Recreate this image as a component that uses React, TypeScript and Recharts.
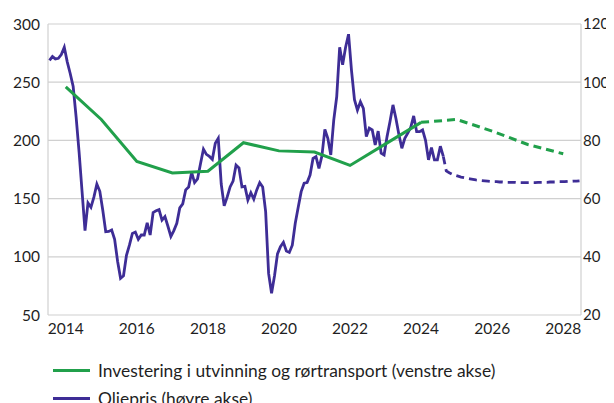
import { LineChart, Line, XAxis, YAxis, CartesianGrid } from 'recharts'

const GREEN = '#21A04B'
const PURPLE = '#3E2D96'
const GRID = '#d0d0d0'
const TEXT = '#1f1f1f'
const FONT = 'Lato, "Open Sans", sans-serif'

// year grid (one column per year) and the labelled years
const gridYears = [2014, 2015, 2016, 2017, 2018, 2019, 2020, 2021, 2022, 2023, 2024, 2025, 2026, 2027, 2028, 2029]
const labelYears = [2014, 2016, 2018, 2020, 2022, 2024, 2026, 2028]
const leftTicks = [50, 100, 150, 200, 250, 300]
const rightTicks = [20, 40, 60, 80, 100, 120]

// investment, annual (left axis)
const investYears = [2014, 2015, 2016, 2017, 2018, 2019, 2020, 2021, 2022, 2023, 2024, 2025, 2026, 2027, 2028]
const investActual = [246, 218, 182, 172, 173.5, 198, 191, 190, 178.5, 197, 215.5]
const investForecast = [215.5, 218, 208, 196.5, 188.5] // 2024 -> 2028

// oil price, monthly (right axis), Jan 2014 - Feb 2025
const oilActual = [
  107.5, 108.8, 108, 108.2, 109.5, 112, 107, 103, 98.5, 88, 76, 62.5,
  49, 58.5, 57, 60.5, 65, 62.5, 56, 48.6, 48.7, 49.2, 46, 38.5,
  32.6, 33.5, 40.5, 44, 48, 48.5, 46, 47.5, 47.5, 51.7, 47.5, 55.2,
  55.8, 56.2, 52.6, 53.8, 50.5, 47, 49, 51.5, 56.8, 58.2, 63, 64,
  69, 65.5, 66.8, 72, 77, 75.2, 74.5, 73.5, 79, 80.7, 65, 57.5,
  60.5, 64, 66, 71.5, 70.5, 64, 64.2, 59.5, 62, 59.8, 63, 65.5,
  64, 55.5, 34.3, 27.5, 33.5, 41, 43.5, 45, 42, 41.5, 44, 51.5,
  57, 62.4, 65.3, 65.5, 68.1, 73.8, 74.4, 70.4, 74.6, 83.8, 80.7, 75,
  87, 95, 112, 106, 112, 116.5, 104, 94, 90.4, 93.3, 91, 81.3,
  84.2, 83.6, 78.4, 83.2, 75.6, 75, 81.3, 86.5, 92.2, 87.5, 82, 77.3,
  80.7, 82.5, 84.5, 88.4, 83, 83, 83.6, 80, 73.3, 77.5, 73.3, 73.3,
  78, 74.5,
]
// oil price forecast, monthly, Feb 2025 - Dec 2028
const oilForecast = [
  74.5, 69.5, 68.9, 68.4, 68, 67.7, 67.4, 67.2, 67, 66.8, 66.6,
  66.4, 66.3, 66.2, 66.1, 66, 65.9, 65.8, 65.8, 65.7, 65.7, 65.6, 65.6,
  65.6, 65.6, 65.5, 65.5, 65.5, 65.5, 65.5, 65.5, 65.5, 65.6, 65.6, 65.6,
  65.6, 65.7, 65.7, 65.7, 65.8, 65.8, 65.8, 65.9, 65.9, 66, 66, 66.1,
]

const mid = (y: number) => y + 0.5
const investActualData = investActual.map((v, i) => ({ t: mid(investYears[i]), v }))
const investForecastData = investForecast.map((v, i) => ({ t: mid(investYears[10 + i]), v }))
const oilActualData = oilActual.map((v, i) => ({ t: 2014 + (i + 0.5) / 12, v }))
const oilForecastData = oilForecast.map((v, i) => ({ t: 2014 + (i + 133 + 0.5) / 12, v }))

const tick = { fontSize: 15.5, fill: TEXT, fontFamily: FONT }

function LegendRow({ color, label }: { color: string; label: string }) {
  return (
    <div style={{ display: 'flex', alignItems: 'center', height: 28 }}>
      <div style={{ marginLeft: 45, width: 37, height: 3, background: color }} />
      <span style={{ marginLeft: 8, fontSize: 17.4, color: TEXT, fontFamily: FONT }}>{label}</span>
    </div>
  )
}

export default function App() {
  return (
    <div style={{ width: 606 }}>
      <LineChart width={606} height={340} margin={{ top: 16, right: 0, bottom: 0, left: 0 }}>
        <CartesianGrid xAxisId="grid" yAxisId="left" stroke={GRID} strokeWidth={1.2} />
        <XAxis
          xAxisId="grid" type="number" dataKey="t" domain={[2014, 2029]}
          ticks={gridYears} hide
        />
        <XAxis
          type="number" dataKey="t" domain={[2014, 2029]} height={33}
          ticks={labelYears.map(mid)} tickFormatter={v => String(Math.floor(v))}
          tick={tick} tickLine={false} axisLine={false} interval={0}
        />
        <YAxis
          yAxisId="left" domain={[50, 300]} ticks={leftTicks} width={40}
          tick={tick} tickLine={false} axisLine={false}
        />
        <YAxis
          yAxisId="right" orientation="right" domain={[20, 120]} ticks={rightTicks} width={33}
          tick={{ ...tick, fontSize: 15, textAnchor: 'start', dx: -4 }} tickLine={false} axisLine={false}
          tickMargin={0}
        />
        <Line yAxisId="right" data={oilActualData} dataKey="v" stroke={PURPLE} strokeWidth={2.8}
          dot={false} isAnimationActive={false} />
        <Line yAxisId="right" data={oilForecastData} dataKey="v" stroke={PURPLE} strokeWidth={2.8}
          strokeDasharray="8 5" dot={false} isAnimationActive={false} />
        <Line yAxisId="left" data={investActualData} dataKey="v" stroke={GREEN} strokeWidth={3}
          dot={false} isAnimationActive={false} />
        <Line yAxisId="left" data={investForecastData} dataKey="v" stroke={GREEN} strokeWidth={3}
          strokeDasharray="8 5" dot={false} isAnimationActive={false} />
      </LineChart>
      <div style={{ paddingTop: 8 }}>
        <LegendRow color={GREEN} label="Investering i utvinning og rørtransport (venstre akse)" />
        <LegendRow color={PURPLE} label="Oljepris (høyre akse)" />
      </div>
    </div>
  )
}
